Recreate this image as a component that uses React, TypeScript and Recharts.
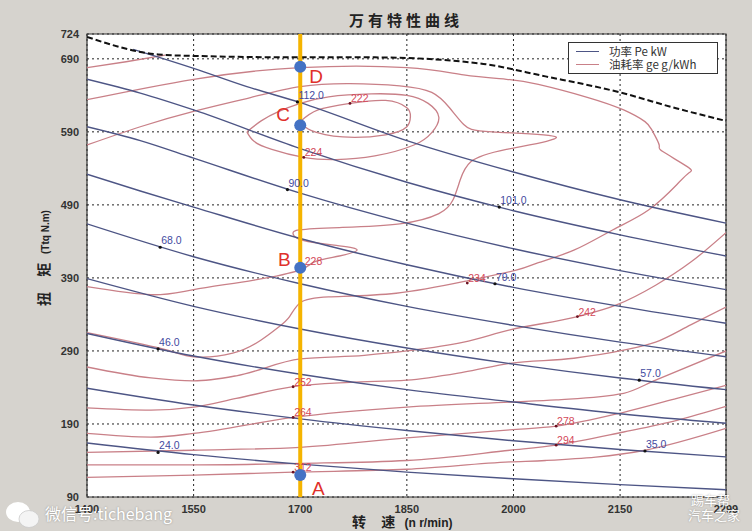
import React from "react";
import {
  ComposedChart,
  Line,
  Scatter,
  XAxis,
  YAxis,
  CartesianGrid,
  ReferenceArea,
  Legend,
} from "recharts";

// speed (r/min) and torque (N.m) ticks
const speedTicks = [1400, 1550, 1700, 1850, 2000, 2150, 2299];
const torqueTicks = [90, 190, 290, 390, 490, 590, 690, 724];

// iso-power lines, [speed, torque]
const power24 = [[1400, 164], [1550, 148], [1700, 135], [1850, 124], [2000, 115], [2150, 107], [2299, 100]];
const power35 = [[1400, 239], [1550, 216], [1700, 197], [1850, 181], [2000, 167], [2150, 155], [2299, 145]];
const power46 = [[1400, 314], [1550, 283], [1700, 258], [1850, 237], [2000, 220], [2150, 204], [2299, 191]];
const power57 = [[1400, 389], [1550, 351], [1700, 320], [1850, 294], [2000, 272], [2150, 253], [2299, 237]];
const power68 = [[1400, 464], [1550, 419], [1700, 382], [1850, 351], [2000, 325], [2150, 302], [2299, 282]];
const power79 = [[1400, 532], [1475, 509], [1550, 487], [1700, 444], [1850, 408], [2000, 377], [2150, 351], [2299, 328]];
const power90 = [[1400, 597], [1475, 578], [1550, 554], [1700, 506], [1850, 465], [2000, 430], [2150, 400], [2299, 374]];
const power101 = [[1400, 662], [1475, 643], [1550, 620], [1700, 567], [1850, 521], [2000, 482], [2150, 449], [2299, 420]];
const power112 = [[1465, 703], [1550, 677], [1625, 652], [1700, 630], [1850, 578], [2000, 535], [2150, 497], [2299, 465]];

// fuel consumption contours, [speed, torque]
const fuel222 = [[1700, 604], [1725, 620], [1770, 629], [1820, 633], [1850, 623], [1855, 611], [1850, 597], [1820, 586], [1760, 583], [1715, 592], [1700, 604]];
const fuel224 = [[1625, 590], [1645, 605], [1670, 618], [1700, 629], [1740, 638], [1800, 642], [1850, 640], [1880, 629], [1895, 610], [1885, 589], [1860, 572], [1805, 557], [1750, 552], [1705, 555], [1660, 566], [1635, 577], [1625, 590]];
const fuel228 = [[1400, 572], [1475, 597], [1550, 618], [1630, 637], [1700, 652], [1770, 656], [1840, 653], [1885, 644], [1910, 623], [1930, 600], [1970, 590], [2060, 583], [1990, 566], [1940, 549], [1925, 524], [1915, 497], [1895, 478], [1840, 464], [1755, 459], [1700, 456], [1690, 450], [1705, 441], [1755, 434], [1780, 428], [1755, 420], [1720, 412], [1700, 401], [1635, 387], [1550, 374], [1490, 367], [1400, 378]];
const fuel234 = [[1400, 634], [1550, 662], [1700, 678], [1850, 678], [1930, 668], [1990, 662], [2035, 655], [2105, 637], [2155, 620], [2185, 604], [2195, 592], [2205, 572], [2210, 563], [2245, 542], [2247, 534], [2230, 518], [2190, 483], [2140, 456], [2085, 428], [2035, 411], [2005, 401], [1935, 386], [1835, 369], [1740, 364], [1700, 356], [1685, 337], [1670, 323], [1645, 305], [1605, 287], [1550, 282], [1505, 293], [1400, 315]];
const fuel242top = [[1400, 678], [1455, 686], [1510, 695]];
const fuel242 = [[1400, 268], [1490, 253], [1550, 249], [1610, 256], [1700, 279], [1790, 284], [1850, 290], [1930, 302], [1995, 319], [2090, 337], [2145, 353], [2200, 380], [2250, 412], [2299, 452]];
const fuel252 = [[1400, 212], [1490, 209], [1550, 213], [1610, 225], [1690, 241], [1770, 247], [1850, 250], [1930, 261], [1995, 273], [2085, 280], [2155, 291], [2200, 302], [2250, 326], [2299, 350]];
const fuel264 = [[1400, 177], [1490, 172], [1550, 177], [1690, 199], [1850, 213], [1995, 220], [2060, 223], [2155, 232], [2200, 250], [2299, 290]];
const fuel278 = [[1400, 151], [1550, 154], [1700, 158], [1850, 171], [1995, 182], [2060, 187], [2155, 206], [2230, 225], [2299, 243]];
const fuel294 = [[1400, 134], [1550, 134], [1700, 136], [1850, 140], [1995, 154], [2060, 161], [2155, 179], [2230, 195], [2299, 214]];
const fuel312 = [[1400, 117], [1550, 120], [1690, 124], [1850, 128], [1995, 138], [2045, 140], [2185, 154], [2299, 184]];

// external characteristic (max torque)
const maxTorque = [[1400, 720], [1500, 696], [1550, 694], [1700, 692], [1805, 692], [1950, 684], [2045, 666], [2150, 644], [2230, 622], [2299, 605]];

// marked operating line at 1700 r/min
const markLine = [[1700, 724], [1700, 90]];

const powerLabels = [
  { n: 1500, t: 151, text: "24.0" },
  { n: 2185, t: 153, text: "35.0" },
  { n: 1500, t: 293, text: "46.0" },
  { n: 2177, t: 250, text: "57.0" },
  { n: 1503, t: 432, text: "68.0" },
  { n: 1974, t: 382, text: "79.0" },
  { n: 1682, t: 511, text: "90.0" },
  { n: 1980, t: 487, text: "101.0" },
  { n: 1696, t: 631, text: "112.0" },
];

const fuelLabels = [
  { n: 1770, t: 629, text: "222" },
  { n: 1705, t: 555, text: "224" },
  { n: 1705, t: 406, text: "228" },
  { n: 1935, t: 383, text: "234" },
  { n: 2090, t: 337, text: "242" },
  { n: 1690, t: 241, text: "252" },
  { n: 1690, t: 199, text: "264" },
  { n: 2060, t: 187, text: "278" },
  { n: 2060, t: 161, text: "294" },
  { n: 1690, t: 124, text: "312" },
];

const markPoints = [
  { n: 1700, t: 679, text: "D" },
  { n: 1700, t: 599, text: "C" },
  { n: 1700, t: 404, text: "B" },
  { n: 1700, t: 120, text: "A" },
];

const toPts = (rows: number[][]) => rows.map(([n, t]) => ({ n, t }));

const powerSeries = [power24, power35, power46, power57, power68, power79, power90, power101, power112];
const fuelOpen = [fuel242top, fuel242, fuel252, fuel264, fuel278, fuel294, fuel312];
const fuelLoops = [fuel222, fuel224, fuel228, fuel234];

const BLUE = "#4d5585";
const RED = "#c98088";
const SANS = "'Liberation Sans', Arial, sans-serif";
const CJK = "'Noto Sans CJK SC', sans-serif";

const letterOffset: Record<string, [number, number]> = {
  D: [16, 10],
  C: [-17, -11],
  B: [-16, -8],
  A: [18, 13],
};

function PowerLabel(props: any) {
  const { cx, cy, payload } = props;
  return (
    <g>
      <circle cx={cx} cy={cy} r={1.6} fill="#111" />
      <text x={cx + 1} y={cy - 3} fontSize={10.5} fill="#3f4aa0" fontFamily={SANS}>
        {payload.text}
      </text>
    </g>
  );
}

function FuelLabel(props: any) {
  const { cx, cy, payload } = props;
  return (
    <g>
      <circle cx={cx} cy={cy} r={1.4} fill="#6b1020" />
      <text x={cx + 1} y={cy - 1} fontSize={10.5} fill="#d44a5a" fontFamily={SANS}>
        {payload.text}
      </text>
    </g>
  );
}

function MarkPoint(props: any) {
  const { cx, cy, payload } = props;
  const [dx, dy] = letterOffset[payload.text];
  return (
    <g>
      <circle cx={cx} cy={cy} r={6} fill="#4472c4" />
      <text
        x={cx + dx}
        y={cy + dy}
        fontSize={19}
        fill="#e0302a"
        fontFamily={SANS}
        textAnchor="middle"
        dominantBaseline="central"
      >
        {payload.text}
      </text>
    </g>
  );
}

function LegendBox() {
  const row = (color: string, label: string) => (
    <div style={{ display: "flex", alignItems: "center", height: 13 }}>
      <div style={{ width: 23, height: 0, borderTop: `1.3px solid ${color}`, marginRight: 10 }} />
      <span>{label}</span>
    </div>
  );
  return (
    <div
      style={{
        border: "1px solid #333",
        background: "#fff",
        padding: "2px 6px 2px 7px",
        fontSize: 11.5,
        fontFamily: CJK,
        color: "#333",
        width: 135,
        lineHeight: "13px",
      }}
    >
      {row(BLUE, "功率 Pe kW")}
      {row(RED, "油耗率 ge g/kWh")}
    </div>
  );
}

const tickStyle = { fontSize: 11, fill: "#333", fontWeight: 700, fontFamily: SANS };

export default function App() {
  return (
    <div
      style={{
        position: "absolute",
        left: 0,
        top: 0,
        width: 752,
        height: 531,
        background: "#d6d3ce",
        overflow: "hidden",
      }}
    >
      <div
        style={{
          position: "absolute",
          left: 406,
          top: 19,
          transform: "translate(-50%, -50%)",
          fontFamily: CJK,
          fontWeight: 700,
          fontSize: 15,
          letterSpacing: 4,
          color: "#222",
          whiteSpace: "nowrap",
        }}
      >
        万有特性曲线
      </div>
      <ComposedChart
        width={752}
        height={531}
        margin={{ top: 34, right: 26, bottom: 0, left: 0 }}
      >
        <CartesianGrid stroke="#222" strokeDasharray="2 3" fill="#ffffff" fillOpacity={1} />
        <XAxis
          dataKey="n"
          type="number"
          domain={[1400, 2299]}
          ticks={speedTicks}
          interval={0}
          allowDataOverflow
          height={34}
          tickLine={false}
          axisLine={false}
          tick={tickStyle}
        />
        <YAxis
          dataKey="t"
          type="number"
          domain={[90, 724]}
          ticks={torqueTicks}
          interval={0}
          allowDataOverflow
          width={87}
          tickLine={false}
          axisLine={false}
          tick={tickStyle}
        />
        <ReferenceArea
          x1={1400}
          x2={2299}
          y1={90}
          y2={724}
          fill="none"
          stroke="#333"
          strokeWidth={1.2}
          ifOverflow="visible"
        />
        {fuelLoops.map((rows, i) => (
          <Line
            key={`loop${i}`}
            data={toPts(rows)}
            dataKey="t"
            type="natural"
            stroke={RED}
            strokeWidth={1.3}
            dot={false}
            activeDot={false}
            isAnimationActive={false}
          />
        ))}
        {fuelOpen.map((rows, i) => (
          <Line
            key={`fuel${i}`}
            data={toPts(rows)}
            dataKey="t"
            type="monotone"
            stroke={RED}
            strokeWidth={1.3}
            dot={false}
            activeDot={false}
            isAnimationActive={false}
          />
        ))}
        {powerSeries.map((rows, i) => (
          <Line
            key={`power${i}`}
            data={toPts(rows)}
            dataKey="t"
            type="monotone"
            stroke={BLUE}
            strokeWidth={1.4}
            dot={false}
            activeDot={false}
            isAnimationActive={false}
          />
        ))}
        <Line
          data={toPts(maxTorque)}
          dataKey="t"
          type="monotone"
          stroke="#111"
          strokeWidth={2}
          strokeDasharray="6 3"
          dot={false}
          activeDot={false}
          isAnimationActive={false}
        />
        <Line
          data={toPts(markLine)}
          dataKey="t"
          type="linear"
          stroke="#f5b400"
          strokeWidth={4}
          dot={false}
          activeDot={false}
          isAnimationActive={false}
        />
        <Scatter data={powerLabels} dataKey="t" shape={PowerLabel} isAnimationActive={false} />
        <Scatter data={fuelLabels} dataKey="t" shape={FuelLabel} isAnimationActive={false} />
        <Scatter data={markPoints} dataKey="t" shape={MarkPoint} isAnimationActive={false} />
        <Legend
          layout="horizontal"
          verticalAlign="middle"
          align="center"
          content={() => <LegendBox />}
          wrapperStyle={{ position: "absolute", left: 568, top: 42, width: 150, height: 32 }}
        />
      </ComposedChart>
      <div
        style={{
          position: "absolute",
          left: 44,
          top: 258,
          transform: "translate(-50%, -50%) rotate(-90deg)",
          whiteSpace: "nowrap",
          color: "#222",
          fontFamily: CJK,
          fontWeight: 700,
          lineHeight: "16px",
        }}
      >
        <span style={{ fontSize: 14, letterSpacing: 6 }}>扭 矩</span>
        <span style={{ fontSize: 10, fontFamily: SANS }}> (Ttq N.m)</span>
      </div>
      <div
        style={{
          position: "absolute",
          left: 352,
          top: 512,
          whiteSpace: "nowrap",
          color: "#222",
          fontFamily: CJK,
          fontWeight: 700,
          lineHeight: "17px",
        }}
      >
        <span style={{ fontSize: 14, letterSpacing: 6 }}>转 速</span>
        <span style={{ fontSize: 12, fontFamily: SANS }}> (n r/min)</span>
      </div>
      <svg style={{ position: "absolute", left: 4, top: 500 }} width={40} height={30}>
        <ellipse cx={14} cy={12} rx={12} ry={10} fill="#fff" />
        <ellipse cx={25} cy={19} rx={10} ry={8.5} fill="#f4f4f4" stroke="#ccc" strokeWidth={0.8} />
      </svg>
      <div
        style={{
          position: "absolute",
          left: 45,
          top: 503,
          color: "#fff",
          fontFamily: CJK,
          fontSize: 16,
          lineHeight: "20px",
          textShadow: "0 0 2px rgba(0,0,0,0.35)",
          whiteSpace: "nowrap",
        }}
      >
        微信号:tichebang
      </div>
      <div
        style={{
          position: "absolute",
          left: 688,
          top: 492,
          color: "#fff",
          fontFamily: CJK,
          fontSize: 13,
          lineHeight: "15px",
          textShadow: "0 0 2px rgba(0,0,0,0.35)",
          whiteSpace: "nowrap",
        }}
      >
        <div style={{ paddingLeft: 3 }}>踢车帮</div>
        <div>汽车之家</div>
      </div>
    </div>
  );
}
